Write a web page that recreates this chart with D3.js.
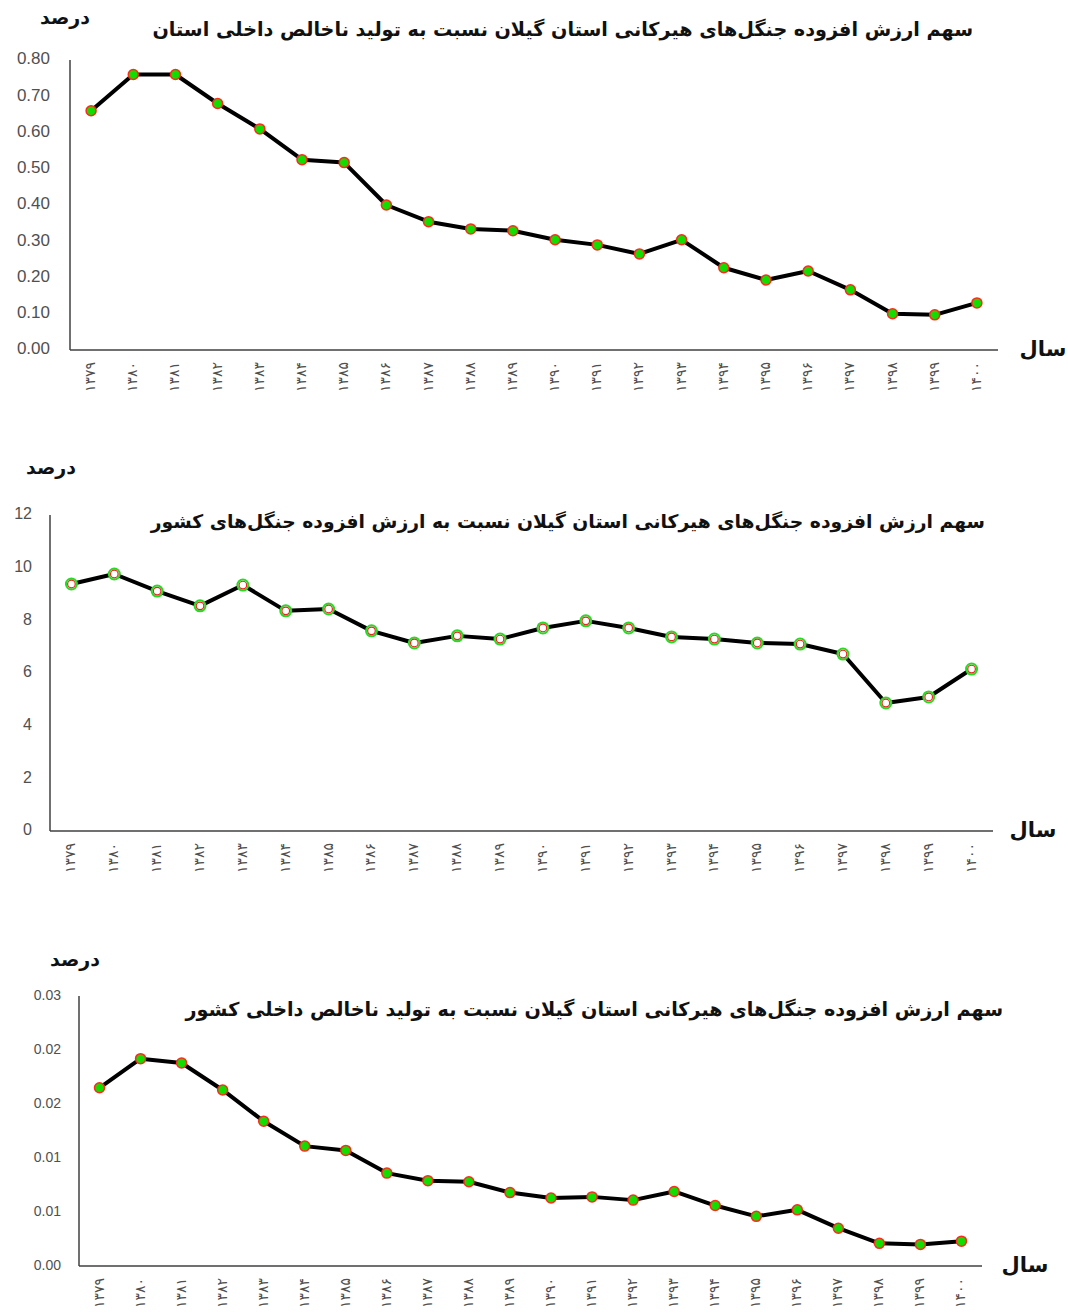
<!DOCTYPE html>
<html>
<head>
  <meta charset="utf-8">
  <title>Hyrcanian forests value added - Gilan</title>
  <script src="https://d3js.org/d3.v7.min.js"></script>
  <style>
    body { margin: 0; background: white; }
    svg { display: block; background: white; }
    .tick-y { font-family: "Liberation Sans", "Open Sans", sans-serif; fill: #505050; }
    .tick-x { font-family: "DejaVu Sans", sans-serif; fill: #505050; font-size: 14px; }
    .fa { font-family: "DejaVu Sans", sans-serif; font-weight: bold; fill: #111; }
  </style>
</head>
<body>
<div id="chart"></div>
<script>
// years (Persian digits)
var years = ["۱۳۷۹","۱۳۸۰","۱۳۸۱","۱۳۸۲","۱۳۸۳","۱۳۸۴","۱۳۸۵","۱۳۸۶","۱۳۸۷","۱۳۸۸","۱۳۸۹",
             "۱۳۹۰","۱۳۹۱","۱۳۹۲","۱۳۹۳","۱۳۹۴","۱۳۹۵","۱۳۹۶","۱۳۹۷","۱۳۹۸","۱۳۹۹","۱۴۰۰"];

// share of provincial GDP (%)
var shareProvince = [0.66,0.76,0.76,0.68,0.61,0.525,0.517,0.40,0.354,0.334,0.329,
                     0.304,0.29,0.265,0.304,0.227,0.193,0.218,0.166,0.10,0.097,0.13];
// share of national forest value added (%)
var shareForests = [9.38,9.76,9.11,8.55,9.34,8.36,8.43,7.60,7.14,7.41,7.29,
                    7.71,7.98,7.71,7.37,7.29,7.14,7.10,6.72,4.86,5.09,6.15];
// share of national GDP (%)
var shareNational = [0.0165,0.0192,0.0188,0.0163,0.0134,0.0111,0.0107,0.0086,0.0079,0.0078,0.0068,
                     0.0063,0.0064,0.0061,0.0069,0.0056,0.0046,0.0052,0.0035,0.0021,0.0020,0.0023];

var yTicks1 = [0,0.1,0.2,0.3,0.4,0.5,0.6,0.7,0.8];
var yLabels1 = ["0.00","0.10","0.20","0.30","0.40","0.50","0.60","0.70","0.80"];
var yTicks2 = [0,2,4,6,8,10,12];
var yLabels2 = ["0","2","4","6","8","10","12"];
var yTicks3 = [0,0.005,0.01,0.015,0.02,0.025];
var yLabels3 = ["0.00","0.01","0.01","0.02","0.02","0.03"];

var title1 = "سهم ارزش افزوده جنگل‌های هیرکانی استان گیلان نسبت به تولید ناخالص داخلی استان";
var title2 = "سهم ارزش افزوده جنگل‌های هیرکانی استان گیلان نسبت به ارزش افزوده جنگل‌های کشور";
var title3 = "سهم ارزش افزوده جنگل‌های هیرکانی استان گیلان نسبت به تولید ناخالص داخلی کشور";
var yLabel = "درصد";
var xLabel = "سال";

var W = 1068, H = 1315;
var svg = d3.select("#chart").append("svg").attr("width", W).attr("height", H);

function fitText(sel, x0, x1, size) {
  // scale font so text spans x0..x1
  sel.style("font-size", size + "px");
  var len = sel.node().getComputedTextLength();
  sel.style("font-size", (size * (x1 - x0) / len) + "px");
}

function drawChart(c) {
  var g = svg.append("g");
  var x = d3.scaleBand().domain(years).range([c.left, c.right]);
  var y = d3.scaleLinear().domain([0, c.yMax]).range([c.bottom, c.top]);

  // axes lines
  g.append("line").attr("x1", c.left).attr("x2", c.left).attr("y1", c.top).attr("y2", c.bottom)
    .attr("stroke", "#404040").attr("stroke-width", 1.5);
  g.append("line").attr("x1", c.left).attr("x2", c.right).attr("y1", c.bottom).attr("y2", c.bottom)
    .attr("stroke", "#404040").attr("stroke-width", 1.5);

  // y tick labels
  g.selectAll(".tick-y").data(c.ticks).enter().append("text")
    .attr("class", "tick-y")
    .attr("x", c.left - c.tickGap)
    .attr("y", function(d){ return y(d); })
    .attr("text-anchor", "end")
    .attr("dominant-baseline", "middle")
    .style("font-size", c.tickSize + "px")
    .text(function(d, i){ return c.labels[i]; });

  // x tick labels (rotated)
  g.selectAll(".tick-x").data(years).enter().append("text")
    .attr("class", "tick-x")
    .attr("transform", function(d){ return "translate(" + (x(d) + x.bandwidth()/2) + "," + (c.bottom + 12) + ") rotate(-90)"; })
    .attr("text-anchor", "end")
    .attr("dominant-baseline", "middle")
    .text(function(d){ return d; });

  // line
  var pts = years.map(function(d, i){ return [x(d) + x.bandwidth()/2, y(c.values[i])]; });
  g.append("path").attr("d", d3.line()(pts))
    .attr("fill", "none").attr("stroke", "#000").attr("stroke-width", 4)
    .attr("stroke-linejoin", "round");

  // markers
  if (c.hollow) {
    g.selectAll(".mo").data(pts).enter().append("circle")
      .attr("cx", function(d){ return d[0]; }).attr("cy", function(d){ return d[1]; })
      .attr("r", 5.5).attr("fill", "white").attr("stroke", "#22dd22").attr("stroke-width", 2);
    g.selectAll(".mi").data(pts).enter().append("circle")
      .attr("cx", function(d){ return d[0]; }).attr("cy", function(d){ return d[1]; })
      .attr("r", 3.8).attr("fill", "white").attr("stroke", "#ee2222").attr("stroke-width", 1.2);
  } else {
    g.selectAll(".m").data(pts).enter().append("circle")
      .attr("cx", function(d){ return d[0]; }).attr("cy", function(d){ return d[1]; })
      .attr("r", 5).attr("fill", "#11dd00").attr("stroke", "#ff2a1a").attr("stroke-width", 1.5);
  }

  // title
  var t = g.append("text").attr("class", "fa")
    .attr("x", c.titleX1).attr("y", c.titleY)
    .attr("text-anchor", "end").attr("dominant-baseline", "middle")
    .text(c.title);
  fitText(t, c.titleX0, c.titleX1, 18);

  // unit and axis labels
  g.append("text").attr("class", "fa")
    .attr("x", c.unitX).attr("y", c.unitY)
    .attr("text-anchor", "middle").attr("dominant-baseline", "middle")
    .style("font-size", "19px").text(yLabel);
  g.append("text").attr("class", "fa")
    .attr("x", c.yearX).attr("y", c.bottom)
    .attr("text-anchor", "middle").attr("dominant-baseline", "middle")
    .style("font-size", "21px").text(xLabel);
}

drawChart({ values: shareProvince, yMax: 0.8, ticks: yTicks1, labels: yLabels1,
  left: 70, right: 998, top: 60, bottom: 350, tickGap: 20, tickSize: 17,
  title: title1, titleX0: 152, titleX1: 973, titleY: 30,
  unitX: 65, unitY: 18, yearX: 1043 });

drawChart({ values: shareForests, yMax: 12, ticks: yTicks2, labels: yLabels2,
  left: 50, right: 993, top: 515, bottom: 831, tickGap: 18, tickSize: 16,
  title: title2, titleX0: 150, titleX1: 985, titleY: 522,
  unitX: 51, unitY: 468, yearX: 1033, hollow: true });

drawChart({ values: shareNational, yMax: 0.025, ticks: yTicks3, labels: yLabels3,
  left: 79, right: 982, top: 996, bottom: 1266, tickGap: 18, tickSize: 14,
  title: title3, titleX0: 185, titleX1: 1003, titleY: 1010,
  unitX: 75, unitY: 960, yearX: 1025 });
</script>
</body>
</html>
